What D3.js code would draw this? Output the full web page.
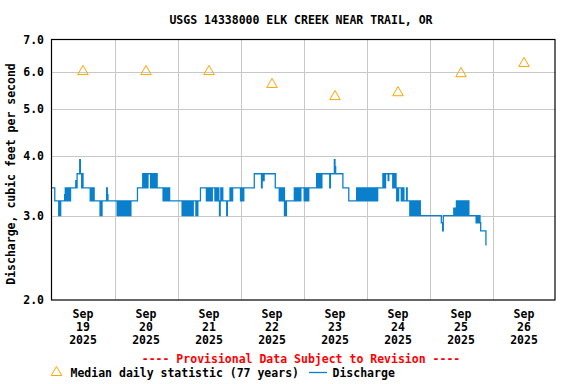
<!DOCTYPE html>
<html>
<head>
<meta charset="UTF-8">
<style>
  body { margin: 0; background: #fff; }
  svg text { font-family: "DejaVu Sans Mono", monospace; font-weight: bold; font-size: 11.5px; }
</style>
</head>
<body>
<svg></svg>
<script src="https://d3js.org/d3.v7.min.js"></script>
<script>
let width = 576, height = 384;
let svg = d3.select("svg").attr("width", width).attr("height", height);

// discharge levels (cfs), coded a..m in the 15-minute strings below
const levelCodes = "abcdefghijklm";
const levelValues = [2.60, 2.70, 2.79, 2.90, 3.00, 3.11, 3.22, 3.32, 3.43, 3.55, 3.67, 3.80, 3.93];

// 15-minute discharge, one code per reading
const sep19 = ["iiiii","gggggg","egeg","ggggg","h","igigigigi","iiiiiii","ji","kkkk","m","kk","iki",
  "iiiiiiiiii","gigigig","gggggggg","ege","ggggggg","i","h","gggggggggg"];
const sep20 = ["gggg","egegegegegegegegegege","gggggggggg","iiiiiiii","kikikiki","kkkk","ikikikikik",
  "iiiiiiiii","gigigigigi","gggggggggggg"];
const sep21 = ["ggggggg","egegegegegegegegeg","ggg","egeg","ggg","iiiiiiiii","gigigigig","iiii","gigigig",
  "e","gigig","ggggg","e","gggg","igigi","iiiiiiiiiii"];
const sep22 = ["gigigi","iiiiiiiiiiiiiii","kkkkkkkkkkk","i","kk","j","kkkkkkkkkkkkkkkkk","iiiiii","gigigigi",
  "ege","gggggggggggg","igigigigigi","iii"];
const sep23 = ["i","gigigigi","iiiiiiiiiii","kikikiki","kkkkkkkkkkkk","i","kkkkkk","m","l","kkkkkkkkkkk",
  "iiiiiiiii","gggggggggggg","igigigigigigigi"];
const sep24 = ["gigigigigigigigigi","iiiiiii","kiki","kkkk","j","kkkkkkikk","iki","gigi","iii","gigi",
  "ggggigggg","egegegegegegegege","eeeeeeeeeeeee"];
const sep25 = ["eeeeeeeeeeeeeeeeee","dd","c","eeeeeeeeeeeeeeee","fef","egegegegegegegegegege","eeeeeeeeee",
  "dedede","d","cccccccc","a"];

// median daily statistic (77 years), one per day
const medianDays = ["19", "20", "21", "22", "23", "24", "25", "26"];
const medianValues = [6.0, 6.0, 6.0, 5.64, 5.32, 5.42, 5.94, 6.24];
const yTicks = [2, 3, 4, 5, 6, 7];

let start = new Date(2025, 8, 19);
let end = new Date(2025, 8, 27);
let flowCodes = [sep19, sep20, sep21, sep22, sep23, sep24, sep25].map(d => d.join("")).join("");
let flow = flowCodes.split("").map((c, i) => ({
  t: new Date(start.getTime() + i * 15 * 60000),
  v: levelValues[levelCodes.indexOf(c)]
}));
let medians = medianDays.map((d, i) => ({ t: new Date(2025, 8, +d, 12), v: medianValues[i] }));

let x = d3.scaleTime().domain([start, end]).range([51.5, 555.5]);
let y = d3.scaleLog().domain([2, 7]).range([300, 39.5]);

// grid
svg.append("g").selectAll("line").data(yTicks.slice(1, -1)).enter().append("line")
  .attr("x1", 51.5).attr("x2", 555.5)
  .attr("y1", d => Math.round(y(d)) + 0.5).attr("y2", d => Math.round(y(d)) + 0.5)
  .attr("stroke", "#c8c8c8");
svg.append("g").selectAll("line").data(d3.timeDay.range(d3.timeDay.offset(start, 1), end)).enter().append("line")
  .attr("x1", d => Math.round(x(d)) + 0.5).attr("x2", d => Math.round(x(d)) + 0.5)
  .attr("y1", 39.5).attr("y2", 300)
  .attr("stroke", "#c8c8c8");

// discharge
let line = d3.line().curve(d3.curveStepAfter).x(d => x(d.t)).y(d => y(d.v));
svg.append("path").datum(flow)
  .attr("d", line)
  .attr("fill", "none")
  .attr("stroke", "#0a80cc")
  .attr("stroke-width", 1.3);

// medians
let tri = d3.symbol().type(d3.symbolTriangle).size(48);
svg.append("g").selectAll("path").data(medians).enter().append("path")
  .attr("d", tri)
  .attr("transform", d => "translate(" + x(d.t) + "," + y(d.v) + ")")
  .attr("fill", "none")
  .attr("stroke", "#ffa500")
  .attr("stroke-width", 1);

// frame
svg.append("rect").attr("x", 51.5).attr("y", 39.5).attr("width", 503.5).attr("height", 260.5)
  .attr("fill", "none").attr("stroke", "#000").attr("stroke-width", 1.2);

// y tick labels
svg.append("g").selectAll("text").data(yTicks).enter().append("text")
  .attr("x", 44).attr("y", d => y(d) + 4)
  .attr("text-anchor", "end")
  .text(d => d3.format(".1f")(d));

// x labels
let xl = svg.append("g").selectAll("text").data(medians).enter().append("text")
  .attr("text-anchor", "middle");
xl.append("tspan").attr("x", d => x(d.t)).attr("y", 318).text("Sep");
xl.append("tspan").attr("x", d => x(d.t)).attr("y", 331).text(d => d3.timeFormat("%d")(d.t));
xl.append("tspan").attr("x", d => x(d.t)).attr("y", 344).text("2025");

svg.append("text").attr("x", 301).attr("y", 24).attr("text-anchor", "middle")
  .text("USGS 14338000 ELK CREEK NEAR TRAIL, OR");

svg.append("text").attr("transform", "translate(15,174) rotate(-90)").attr("text-anchor", "middle")
  .text("Discharge, cubic feet per second");

svg.append("text").attr("x", 301).attr("y", 362.5).attr("text-anchor", "middle").attr("fill", "#ff0000")
  .text("---- Provisional Data Subject to Revision ----");

// legend
svg.append("path").attr("d", tri).attr("transform", "translate(56.5,372.5)")
  .attr("fill", "none").attr("stroke", "#ffa500");
svg.append("text").attr("x", 70.5).attr("y", 377).text("Median daily statistic (77 years)");
svg.append("line").attr("x1", 309).attr("x2", 327).attr("y1", 372.5).attr("y2", 372.5)
  .attr("stroke", "#0a80cc").attr("stroke-width", 1.3);
svg.append("text").attr("x", 332.5).attr("y", 377).text("Discharge");
</script>
</body>
</html>
